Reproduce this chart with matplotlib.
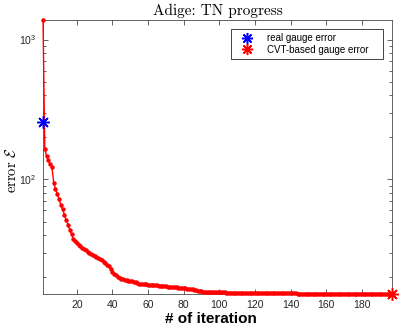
import matplotlib
matplotlib.use("Agg")
import matplotlib.pyplot as plt
from matplotlib.lines import Line2D
from matplotlib.ticker import LogLocator

# error per TN iteration
cvt_error = [
    1390, 166, 146, 137, 128, 123, 95, 85, 79, 72,
    66, 61, 56, 51.5, 47.5, 43.8, 40.5, 37.6, 36.2, 35.1,
    34.2, 33.3, 32.5, 31.8, 31.1, 30.5, 30.0, 29.5, 29.0, 28.5,
    28.0, 27.5, 27.0, 26.4, 25.8, 25.2, 24.6, 23.9, 22.8, 21.8,
    21.1, 20.6, 20.2, 19.8, 19.5, 19.3, 19.1, 19.0, 18.9, 18.8,
    18.7, 18.6, 18.45, 18.2, 18.0, 17.9, 17.85, 17.8, 17.75, 17.7,
    17.65, 17.6, 17.55, 17.5, 17.45, 17.4, 17.35, 17.3, 17.25, 17.2,
    17.15, 17.1, 17.05, 17.0, 16.95, 16.9, 16.85, 16.8, 16.75, 16.7,
    16.65, 16.6, 16.55, 16.5, 16.4, 16.3, 16.15, 16.0, 15.9, 15.85,
    15.8, 15.76, 15.72, 15.69, 15.66, 15.64, 15.62, 15.6, 15.59, 15.58,
    15.57, 15.56, 15.55, 15.54, 15.53, 15.52, 15.51, 15.5, 15.49, 15.48,
    15.47, 15.47, 15.46, 15.45, 15.45, 15.44, 15.43, 15.43, 15.42, 15.41,
    15.41, 15.4, 15.4, 15.39, 15.38, 15.38, 15.37, 15.37, 15.36, 15.36,
    15.35, 15.35, 15.34, 15.34, 15.33, 15.33, 15.32, 15.32, 15.31, 15.31,
    15.3, 15.3, 15.3, 15.29, 15.29, 15.28, 15.28, 15.28, 15.27, 15.27,
    15.27, 15.26, 15.26, 15.26, 15.25, 15.25, 15.25, 15.24, 15.24, 15.24,
    15.24, 15.23, 15.23, 15.23, 15.23, 15.22, 15.22, 15.22, 15.22, 15.21,
    15.21, 15.21, 15.21, 15.21, 15.2, 15.2, 15.2, 15.2, 15.2, 15.2,
    15.19, 15.19, 15.19, 15.19, 15.19, 15.19, 15.18, 15.18, 15.18, 15.18,
    15.18, 15.18, 15.17, 15.17, 15.17, 15.17, 15.17,
]
iterations = list(range(1, len(cvt_error) + 1))
real_gauge_iter = 1
real_gauge_error = 258
x_ticks = [20, 40, 60, 80, 100, 120, 140, 160, 180]

GRAY = "#262626"
SANS = "Liberation Sans"
STAR = (8, 2, 0)
plt.rcParams["mathtext.fontset"] = "cm"

fig = plt.figure(figsize=(3.99, 3.29), dpi=100)
ax = fig.add_axes([0.1078, 0.1064, 0.8747, 0.8343])

ax.plot(iterations, cvt_error, color="red", linewidth=1.0,
        marker="o", markersize=3.2, markeredgewidth=0, clip_on=False, zorder=3)
ax.plot(real_gauge_iter, real_gauge_error, linestyle="none", marker=STAR,
        markersize=9, markeredgewidth=1.1, color="blue", clip_on=False, zorder=4)
ax.plot(iterations[-1], cvt_error[-1], linestyle="none", marker=STAR,
        markersize=9, markeredgewidth=1.1, color="red", clip_on=False, zorder=4)

ax.set_yscale("log")
ax.set_xlim(1, len(cvt_error))
ax.set_ylim(min(cvt_error), max(cvt_error))
ax.set_xticks(x_ticks)
ax.yaxis.set_major_locator(LogLocator(base=10))
ax.yaxis.set_minor_locator(LogLocator(base=10, subs=range(2, 10)))

ax.tick_params(which="both", direction="in", top=True, right=True,
               colors=GRAY, width=0.5)
ax.tick_params(which="major", length=3.5, labelsize=7.5, pad=4)
ax.tick_params(which="minor", length=2)
ax.tick_params(axis="y", which="major", pad=5)
ax.tick_params(axis="x", which="minor", bottom=False, top=False)
for lab in ax.get_xticklabels() + ax.get_yticklabels():
    lab.set_fontfamily(SANS)
for sp in ax.spines.values():
    sp.set_color(GRAY)
    sp.set_linewidth(0.5)

ax.set_title("Adige: TN progress", fontfamily="cmr10", fontsize=11, pad=3)
ax.set_xlabel("# of iteration", fontfamily=SANS, fontweight="bold",
              fontsize=11, labelpad=2)
ax.xaxis.label.set_x(0.482)
ax.set_ylabel(r"error $\mathcal{E}$", fontfamily="cmr10", fontsize=10.5)
ax.yaxis.set_label_coords(-0.068, 0.45)

handles = [
    Line2D([], [], linestyle="none", marker=STAR, markersize=8,
           markeredgewidth=1.1, color="blue"),
    Line2D([], [], linestyle="none", marker=STAR, markersize=8,
           markeredgewidth=1.1, color="red"),
]
leg = ax.legend(handles, ["real gauge error", "CVT-based gauge error"],
                loc="upper left", bbox_to_anchor=(0.538, 0.0, 0.435, 0.964),
                mode="expand", prop={"family": SANS, "size": 7},
                fancybox=False, edgecolor=GRAY, framealpha=1,
                borderpad=0.4, labelspacing=0.15, handlelength=2.6,
                handletextpad=0.7, borderaxespad=0)
leg.get_frame().set_linewidth(0.6)

fig.savefig("out.png", dpi=100)
